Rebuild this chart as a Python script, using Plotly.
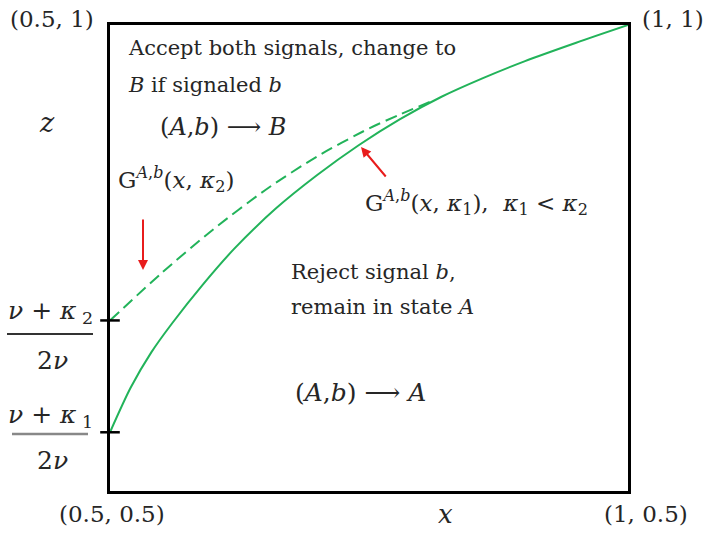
import plotly.graph_objects as go

# Threshold curves G^{A,b}(x, kappa) on the square [0.5,1] x [0.5,1]
x_k1 = [0.50, 0.52, 0.54, 0.56, 0.59, 0.62, 0.66, 0.70, 0.74, 0.78, 0.82, 0.86, 0.90, 0.95, 1.00]
z_k1 = [0.563, 0.611, 0.649, 0.680, 0.722, 0.760, 0.803, 0.839, 0.871, 0.899, 0.923, 0.943, 0.961, 0.981, 1.000]

x_k2 = [0.50, 0.55, 0.60, 0.65, 0.70, 0.75, 0.78, 0.81]
z_k2 = [0.683, 0.734, 0.781, 0.823, 0.859, 0.889, 0.904, 0.918]

# Intercepts on the z axis: (nu + kappa)/(2 nu)
z_intercepts = [z_k1[0], z_k2[0]]

GREEN = "#22b35a"
RED = "#e81c1c"
SERIF = "DejaVu Serif, Liberation Serif, serif"

W, H = 708, 533
L, R, T, B = 110, 628, 25, 491


def px(xp):
    return (xp - L) / (R - L)


def py(yp):
    return (B - yp) / (B - T)


fig = go.Figure()
fig.add_trace(go.Scatter(x=x_k1, y=z_k1, mode="lines",
                         line=dict(color=GREEN, width=2, shape="spline", smoothing=0.8),
                         hoverinfo="skip", showlegend=False))
fig.add_trace(go.Scatter(x=x_k2, y=z_k2, mode="lines",
                         line=dict(color=GREEN, width=2, shape="spline", smoothing=0.8, dash="12px,6px"),
                         hoverinfo="skip", showlegend=False))
fig.add_trace(go.Scatter(x=[0.5, 0.5], y=z_intercepts, mode="markers",
                         marker=dict(symbol="line-ew", size=14, line=dict(color="black", width=2.5)),
                         cliponaxis=False, hoverinfo="skip", showlegend=False))

ann = []


def text(xp, yp, s, size=20, xanchor="left", color="#262626"):
    ann.append(dict(x=px(xp), y=py(yp), xref="paper", yref="paper", text=s, showarrow=False,
                    xanchor=xanchor, yanchor="middle", font=dict(family=SERIF, size=size, color=color)))


# corner coordinates and axis names
text(52, 19, "(0.5, 1)", 23, "center")
text(673, 19, "(1, 1)", 23, "center")
text(112, 514, "(0.5, 0.5)", 23, "center")
text(646, 514, "(1, 0.5)", 23, "center")
text(445, 514, "<i>x</i>", 26, "center")
text(47, 122, "<i>z</i>", 27, "center")

# intercept fractions
text(50, 312, "<i>ν</i> + <i>κ</i><sub> 2</sub>", 25, "center")
text(52, 360, "2<i>ν</i>", 25, "center")
text(50, 416, "<i>ν</i> + <i>κ</i><sub> 1</sub>", 25, "center")
text(52, 460, "2<i>ν</i>", 25, "center")

# region descriptions
text(126, 48, "Accept both signals, change to", 21)
text(126, 85, "<i>B</i> if signaled <i>b</i>", 21)
text(158, 127, "(<i>A</i>,<i>b</i>) ⟶ <i>B</i>", 24)
text(116, 179, "G<sup><i>A</i>,<i>b</i></sup>(<i>x</i>, <i>κ</i><sub>2</sub>)", 23)
text(363, 202, "G<sup><i>A</i>,<i>b</i></sup>(<i>x</i>, <i>κ</i><sub>1</sub>),  <i>κ</i><sub>1</sub> < <i>κ</i><sub>2</sub>", 23)
text(289, 272, "Reject signal <i>b</i>,", 21)
text(289, 307, "remain in state <i>A</i>", 21)
text(293, 392, "(<i>A</i>,<i>b</i>) ⟶ <i>A</i>", 25)

# red pointer arrows
for tip, tail in [((143, 270), (143, 218)), ((361, 147), (387, 178))]:
    ann.append(dict(x=px(tip[0]), y=py(tip[1]), xref="paper", yref="paper", text="",
                    showarrow=True, ax=tail[0] - tip[0], ay=tail[1] - tip[1],
                    arrowcolor=RED, arrowwidth=2, arrowhead=2, arrowsize=1))

shapes = [
    dict(type="line", xref="paper", yref="paper", x0=px(7), x1=px(93), y0=py(334), y1=py(334),
         line=dict(color="#333", width=2)),
    dict(type="line", xref="paper", yref="paper", x0=px(12), x1=px(88), y0=py(434), y1=py(434),
         line=dict(color="#888", width=2.5)),
]

axis = dict(range=[0.5, 1], showgrid=False, zeroline=False, showticklabels=False, ticks="",
            showline=True, linecolor="black", linewidth=2.5, mirror=True, fixedrange=True)

fig.update_layout(
    width=W, height=H,
    margin=dict(l=L, r=W - R, t=T, b=H - B),
    paper_bgcolor="white", plot_bgcolor="white",
    xaxis=axis, yaxis=axis,
    annotations=ann, shapes=shapes,
    showlegend=False,
)

fig.write_html("out.html")
